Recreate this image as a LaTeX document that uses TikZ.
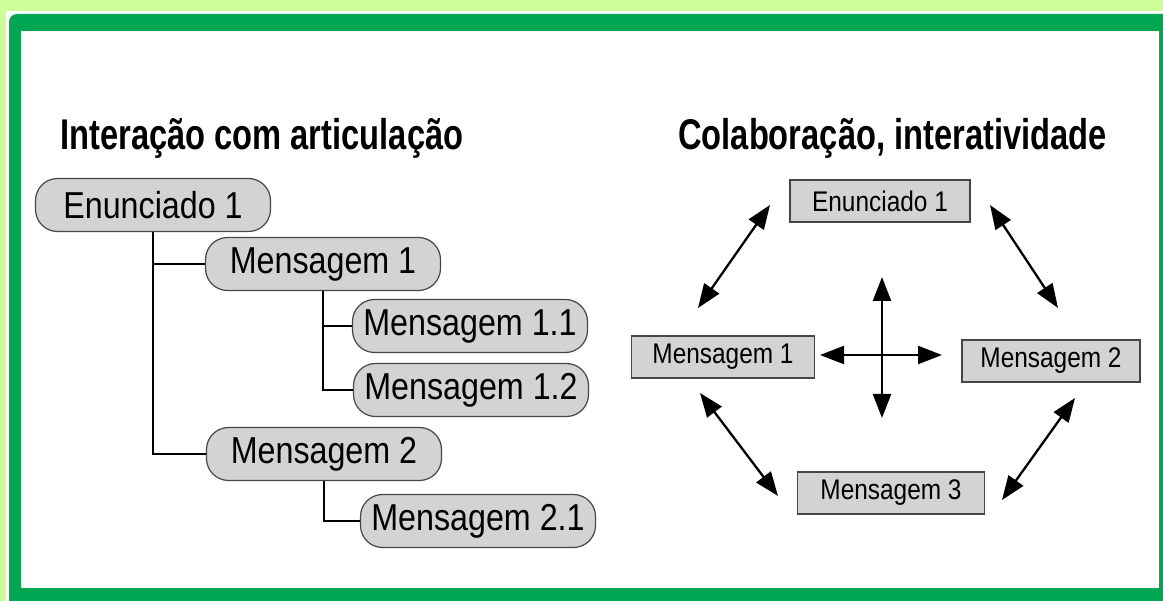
\documentclass[tikz,border=0pt]{standalone}
\usepackage{fontspec}
\setmainfont{Liberation Sans}[FakeStretch=0.86]
\newfontfamily\headfont{Liberation Sans}[FakeStretch=0.76]
\usetikzlibrary{arrows.meta}
\definecolor{paleleaf}{RGB}{204,255,153}
\definecolor{framegreen}{RGB}{0,166,81}
\definecolor{boxgray}{RGB}{211,211,211}
\definecolor{edgegray}{RGB}{70,70,70}

\begin{document}
\begin{tikzpicture}[x=1pt,y=-1pt,
  treebox/.style={draw=edgegray,fill=boxgray,line width=1.2pt,rounded corners=22,
    minimum width=235,minimum height=53,inner sep=0pt,font=\fontsize{37.5}{42}\selectfont},
  chatbox/.style={draw=edgegray,fill=boxgray,line width=1.1pt,
    minimum width=180,minimum height=42,inner sep=0pt,font=\fontsize{28.4}{32}\selectfont},
  headline/.style={anchor=base west,inner sep=0pt,font=\headfont\bfseries\fontsize{43}{47}\selectfont},
  branch/.style={line width=1.5pt},
  link/.style={line width=2.3pt,{Triangle[length=24pt,width=18pt]}-{Triangle[length=24pt,width=18pt]}}]
  % page and green frame
  \useasboundingbox[fill=paleleaf] (0,0) rectangle (1163,601);
  \fill[white] (6,11) rectangle (1180,620);
  \fill[framegreen,rounded corners=8] (9,14) rectangle (1180,620);
  \fill[white] (21,31) rectangle (1159,588);
  % titles
  \node[headline] (ttlL) at (60,150) {Interação com articulação};
  \node[headline] (ttlR) at (678,150) {Colaboração, interatividade};
  % left: tree
  \node[treebox] (e1L) at (153,205) {Enunciado 1};
  \node[treebox] (m1L) at (323,264) {Mensagem 1};
  \node[treebox] (m11) at (470,326) {Mensagem 1.1};
  \node[treebox] (m12) at (471,390) {Mensagem 1.2};
  \node[treebox] (m2L) at (324,454) {Mensagem 2};
  \node[treebox] (m21) at (478,521) {Mensagem 2.1};
  \draw[branch] (e1L.south) -- (e1L.south |- m2L.west) -- (m2L.west);
  \draw[branch] (e1L.south |- m1L.west) -- (m1L.west);
  \draw[branch] (m1L.south) -- (m1L.south |- m12.west) -- (m12.west);
  \draw[branch] (m1L.south |- m11.west) -- (m11.west);
  \draw[branch] (m2L.south) -- (m2L.south |- m21.west) -- (m21.west);
  % right: collaboration
  \node[chatbox] (e1R) at (880,201) {Enunciado 1};
  \node[chatbox,minimum width=183] (m1R) at (723,357) {Mensagem 1};
  \node[chatbox,minimum width=178] (m2R) at (1051,361) {Mensagem 2};
  \node[chatbox,minimum width=187] (m3R) at (891,493) {Mensagem 3};
  \coordinate (ulA) at (770,205);  \coordinate (ulB) at (698,308);
  \coordinate (urA) at (990,205);  \coordinate (urB) at (1058,308);
  \coordinate (hzA) at (820,355);  \coordinate (hzB) at (942,355);
  \coordinate (vtA) at (882,277);  \coordinate (vtB) at (882,418);
  \coordinate (llA) at (700,393);  \coordinate (llB) at (778,496);
  \coordinate (lrA) at (1002,500); \coordinate (lrB) at (1075,398);
  \draw[link] (ulA) -- (ulB);
  \draw[link] (urA) -- (urB);
  \draw[link] (hzA) -- (hzB);
  \draw[link] (vtA) -- (vtB);
  \draw[link] (llA) -- (llB);
  \draw[link] (lrA) -- (lrB);
\end{tikzpicture}
\end{document}
